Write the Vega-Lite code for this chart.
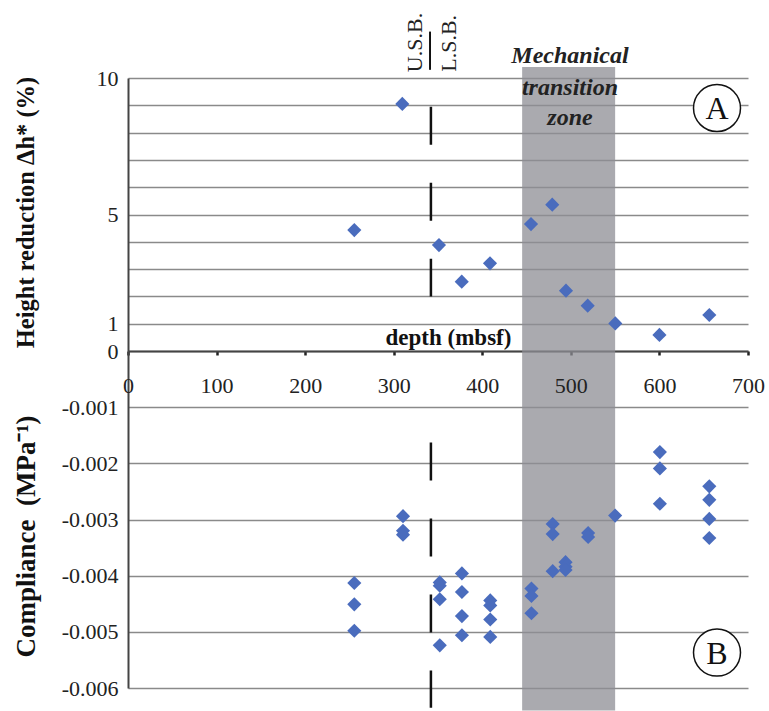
{
  "$schema": "https://vega.github.io/schema/vega-lite/v6.json",
  "background": "white",
  "padding": {"left": 12, "top": 12, "right": 5, "bottom": 0},
  "config": {
    "font": "Liberation Serif",
    "view": {"stroke": null},
    "axis": {"labelFont": "Liberation Serif", "titleFont": "Liberation Serif", "labelFlush": false, "labelOverlap": false}
  },
  "datasets": {
    "height": [
      {"x": 255.5, "y": 4.43}, {"x": 309.7, "y": 9.05}, {"x": 351.1, "y": 3.88}, {"x": 376.8, "y": 2.54},
      {"x": 408.7, "y": 3.21}, {"x": 455.0, "y": 4.65}, {"x": 479.0, "y": 5.36}, {"x": 494.5, "y": 2.21},
      {"x": 519.0, "y": 1.66}, {"x": 550.2, "y": 1.01}, {"x": 600.0, "y": 0.59}, {"x": 656.3, "y": 1.32}
    ],
    "compliance": [
      {"x": 255.5, "y": -0.00413}, {"x": 255.5, "y": -0.00451}, {"x": 255.5, "y": -0.00498},
      {"x": 310.5, "y": -0.00294}, {"x": 310.5, "y": -0.00320}, {"x": 310.5, "y": -0.00327},
      {"x": 352.0, "y": -0.00412}, {"x": 352.0, "y": -0.00418}, {"x": 352.0, "y": -0.00442}, {"x": 352.0, "y": -0.00524},
      {"x": 377.0, "y": -0.00396}, {"x": 377.0, "y": -0.00429}, {"x": 377.0, "y": -0.00472}, {"x": 377.0, "y": -0.00506},
      {"x": 409.0, "y": -0.00444}, {"x": 409.0, "y": -0.00453}, {"x": 409.0, "y": -0.00478}, {"x": 409.0, "y": -0.00509},
      {"x": 455.5, "y": -0.00423}, {"x": 455.5, "y": -0.00436}, {"x": 455.5, "y": -0.00467},
      {"x": 479.5, "y": -0.00308}, {"x": 479.5, "y": -0.00326}, {"x": 479.5, "y": -0.00392},
      {"x": 494.0, "y": -0.00376}, {"x": 494.0, "y": -0.00384}, {"x": 494.0, "y": -0.00390},
      {"x": 519.5, "y": -0.00324}, {"x": 519.5, "y": -0.00331},
      {"x": 550.0, "y": -0.00293},
      {"x": 600.5, "y": -0.00180}, {"x": 600.5, "y": -0.00209}, {"x": 600.5, "y": -0.00272},
      {"x": 656.3, "y": -0.00241}, {"x": 656.3, "y": -0.00265}, {"x": 656.3, "y": -0.00299}, {"x": 656.3, "y": -0.00333}
    ],
    "topZone": [{"x": 445, "x2": 550, "y": 0, "y2": 10.4}],
    "topBoundary": [{"x": 342, "y": 8.95, "y2": 2.0}],
    "topBar": [{"x": 341, "y": 11.7, "y2": 10.3}],
    "topZoneText": [
      {"x": 499, "y": 10.8, "t": "Mechanical"},
      {"x": 499, "y": 9.63, "t": "transition"},
      {"x": 499, "y": 8.53, "t": "zone"}
    ],
    "topBoundaryText": [
      {"x": 324, "y": 11.3, "t": "U.S.B."},
      {"x": 362, "y": 11.27, "t": "L.S.B."}
    ],
    "topPanel": [{"x": 665, "y": 8.9, "t": "A"}],
    "botZone": [{"x": 445, "x2": 550, "y": 0, "y2": -0.0064}],
    "botBoundary": [{"x": 342, "y": -0.00163, "y2": -0.00635}],
    "botPanel": [{"x": 665, "y": -0.00537, "t": "B"}]
  },
  "spacing": 0,
  "bounds": "flush",
  "vconcat": [
    {
      "width": 620,
      "height": 273,
      "encoding": {
        "x": {
          "field": "x", "type": "quantitative",
          "scale": {"domain": [0, 700], "nice": false, "zero": false},
          "axis": {
            "orient": "bottom", "values": [0, 100, 200, 300, 400, 500, 600, 700],
            "labels": false, "grid": false, "ticks": true, "tickSize": 4, "tickWidth": 2.5, "tickColor": "#222",
            "domainColor": "#444", "domainWidth": 2,
            "title": "depth (mbsf)", "titleFontSize": 23, "titleFontWeight": "bold", "titleColor": "#111",
            "titleX": 320, "titleY": -7, "titleBaseline": "alphabetic", "titleAlign": "center"
          }
        },
        "y": {
          "field": "y", "type": "quantitative",
          "scale": {"domain": [0, 10], "nice": false, "zero": false},
          "axis": {
            "values": [0, 1, 2, 3, 4, 5, 6, 7, 8, 9, 10],
            "grid": true, "gridColor": "#8a8a8a", "gridWidth": 1.5,
            "ticks": false, "domainColor": "#444", "domainWidth": 2,
            "labelExpr": "datum.value == 0 || datum.value == 1 || datum.value == 5 || datum.value == 10 ? datum.label : ''",
            "labelFontSize": 22, "labelPadding": 10, "labelColor": "#222",
            "title": "Height reduction Δh* (%)", "titleFontSize": 24.5, "titleFontWeight": "bold", "titleColor": "#111",
            "titleX": -102, "titleY": 134, "titleAlign": "center", "titleBaseline": "middle", "titleAngle": 270
          }
        }
      },
      "layer": [
        {"data": {"name": "topZone"}, "mark": {"type": "rect", "color": "#8e8e94", "opacity": 0.75},
         "encoding": {"x2": {"field": "x2"}, "y2": {"field": "y2"}}},
        {"data": {"name": "topBoundary"}, "mark": {"type": "rule", "color": "#111", "strokeWidth": 2.5, "strokeDash": [38, 38]},
         "encoding": {"y2": {"field": "y2"}}},
        {"data": {"name": "topBar"}, "mark": {"type": "rule", "color": "#111", "strokeWidth": 2},
         "encoding": {"y2": {"field": "y2"}}},
        {"data": {"name": "height"}, "mark": {"type": "point", "shape": "diamond", "filled": true, "color": "#4a6cbd", "size": 200, "opacity": 1}},
        {"data": {"name": "topPanel"}, "mark": {"type": "point", "shape": "circle", "filled": true, "fill": "white", "stroke": "#111", "strokeWidth": 1.5, "size": 2209, "opacity": 1}},
        {"data": {"name": "topPanel"}, "mark": {"type": "text", "fontSize": 32, "color": "#111", "baseline": "middle", "align": "center", "dy": 1},
         "encoding": {"text": {"field": "t"}}},
        {"data": {"name": "topZoneText"}, "mark": {"type": "text", "fontSize": 24, "fontWeight": "bold", "fontStyle": "italic", "color": "#222", "baseline": "middle", "align": "center"},
         "encoding": {"text": {"field": "t"}}},
        {"data": {"name": "topBoundaryText"}, "mark": {"type": "text", "fontSize": 22, "color": "#222", "angle": 270, "baseline": "middle", "align": "center"},
         "encoding": {"text": {"field": "t"}}}
      ]
    },
    {
      "width": 620,
      "height": 337,
      "encoding": {
        "x": {
          "field": "x", "type": "quantitative",
          "scale": {"domain": [0, 700], "nice": false, "zero": false},
          "axis": {
            "orient": "top", "values": [0, 100, 200, 300, 400, 500, 600, 700],
            "domain": false, "ticks": false, "grid": false, "labelPadding": -46,
            "labelFontSize": 22, "labelColor": "#222", "title": null, "zindex": 1
          }
        },
        "y": {
          "field": "y", "type": "quantitative",
          "scale": {"domain": [-0.006, 0], "nice": false, "zero": false},
          "axis": {
            "values": [-0.006, -0.005, -0.004, -0.003, -0.002, -0.001],
            "grid": true, "gridColor": "#8a8a8a", "gridWidth": 1.5,
            "ticks": false, "domainColor": "#444", "domainWidth": 2,
            "labelExpr": "'-' + format(-datum.value, '.3f')",
            "labelFontSize": 22, "labelPadding": 10, "labelColor": "#222",
            "title": "Compliance\u00a0\u00a0(MPa⁻¹)", "titleFontSize": 27, "titleFontWeight": "bold", "titleColor": "#111",
            "titleX": -102, "titleY": 185, "titleAlign": "center", "titleBaseline": "middle", "titleAngle": 270
          }
        }
      },
      "layer": [
        {"data": {"name": "botZone"}, "mark": {"type": "rect", "color": "#8e8e94", "opacity": 0.75},
         "encoding": {"x2": {"field": "x2"}, "y2": {"field": "y2"}}},
        {"data": {"name": "botBoundary"}, "mark": {"type": "rule", "color": "#111", "strokeWidth": 2.5, "strokeDash": [38, 38]},
         "encoding": {"y2": {"field": "y2"}}},
        {"data": {"name": "compliance"}, "mark": {"type": "point", "shape": "diamond", "filled": true, "color": "#4a6cbd", "size": 200, "opacity": 1}},
        {"data": {"name": "botPanel"}, "mark": {"type": "point", "shape": "circle", "filled": true, "fill": "white", "stroke": "#111", "strokeWidth": 1.5, "size": 2209, "opacity": 1}},
        {"data": {"name": "botPanel"}, "mark": {"type": "text", "fontSize": 32, "color": "#111", "baseline": "middle", "align": "center", "dy": 1},
         "encoding": {"text": {"field": "t"}}}
      ]
    }
  ]
}
